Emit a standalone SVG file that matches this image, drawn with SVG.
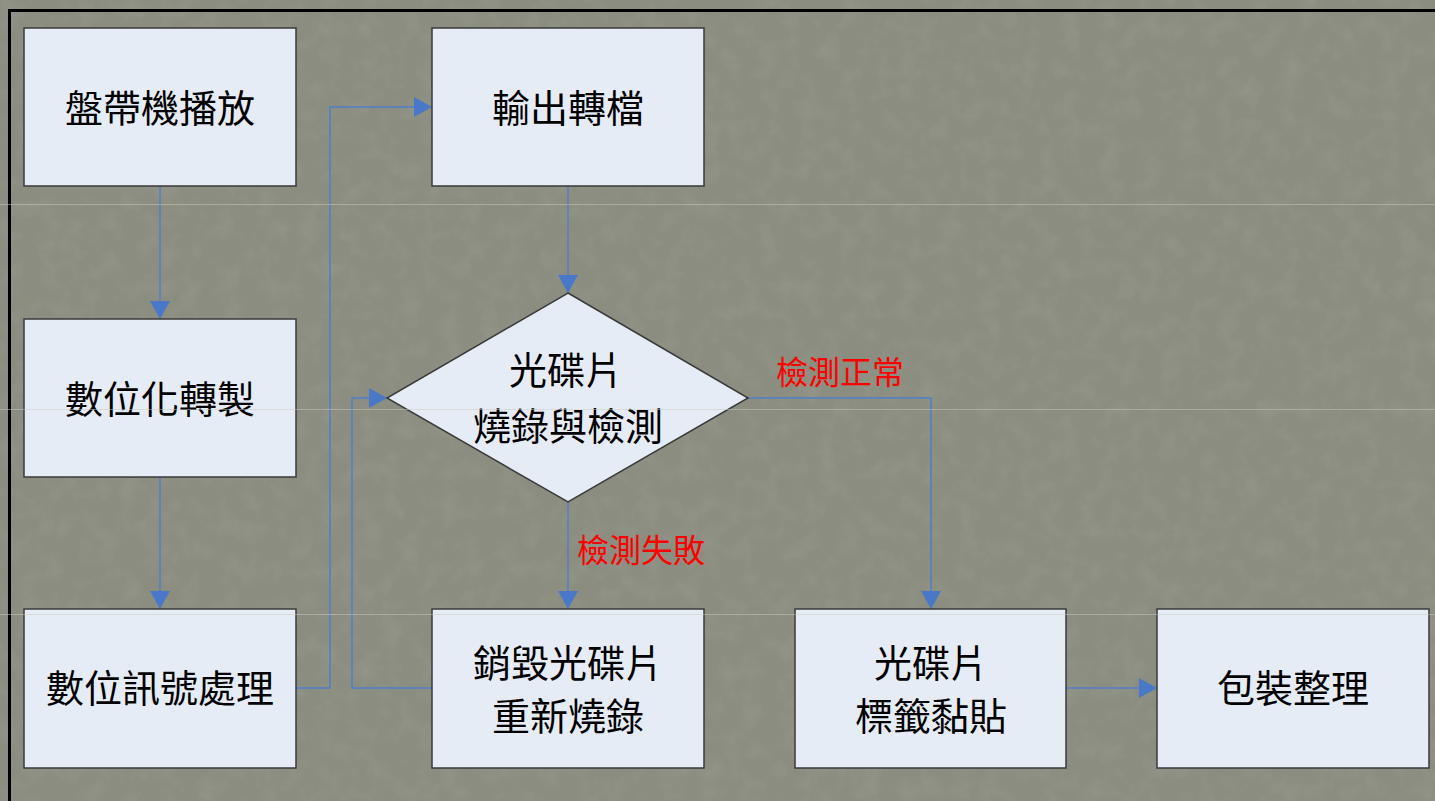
<svg xmlns="http://www.w3.org/2000/svg" width="1435" height="801" viewBox="0 0 1435 801">
<style>
.node{fill:#e6ecf6;stroke:#3a3a3a;stroke-width:1.5}
.lbl{font-family:"Noto Sans CJK TC","Noto Sans CJK SC",sans-serif;font-size:38px;fill:#000;text-anchor:middle}
.red{font-family:"Noto Sans CJK TC","Noto Sans CJK SC",sans-serif;font-size:32px;fill:#ff0000;text-anchor:start}
.conn{fill:none;stroke:#4f7fc6;stroke-width:1.5}
.seam{stroke:#c9cbc0;stroke-width:1;opacity:0.5}
</style>
<defs>
<marker id="arr" markerUnits="userSpaceOnUse" markerWidth="18" markerHeight="20" refX="18" refY="10" orient="auto">
<path d="M0,0 L18,10 L0,20 z" fill="#4a78c8"/>
</marker>
<filter id="tex" x="0" y="0" width="100%" height="100%">
<feTurbulence type="fractalNoise" baseFrequency="0.05" numOctaves="3" seed="4"/>
<feColorMatrix type="matrix" values="0 0 0 0 0.45  0 0 0 0 0.47  0 0 0 0 0.40  0 0 0 -1.2 0.7"/>
</filter>
</defs>
<rect x="0" y="0" width="1435" height="801" fill="#8a8d7f"/>
<rect x="0" y="0" width="1435" height="801" filter="url(#tex)" opacity="0.3"/>
<g id="frame">
<line x1="8" y1="10.5" x2="1435" y2="10.5" stroke="#000" stroke-width="3"/>
<line x1="9.5" y1="9" x2="9.5" y2="801" stroke="#000" stroke-width="3"/>
</g>
<g id="connectors">
<line class="conn" x1="160" y1="187" x2="160" y2="319" marker-end="url(#arr)"/>
<line class="conn" x1="160" y1="477" x2="160" y2="609" marker-end="url(#arr)"/>
<polyline class="conn" points="296,688 330,688 330,107 432,107" marker-end="url(#arr)"/>
<line class="conn" x1="568" y1="187" x2="568" y2="293" marker-end="url(#arr)"/>
<line class="conn" x1="568" y1="502" x2="568" y2="609" marker-end="url(#arr)"/>
<polyline class="conn" points="432,688 352,688 352,398 387,398" marker-end="url(#arr)"/>
<polyline class="conn" points="748,398 931,398 931,609" marker-end="url(#arr)"/>
<line class="conn" x1="1066" y1="688" x2="1157" y2="688" marker-end="url(#arr)"/>
<text class="red" x="776" y="384">檢測正常</text>
<text class="red" x="577" y="562">檢測失敗</text>
</g>
<g id="n1">
<rect class="node" x="24" y="28" width="272" height="158"/>
<text class="lbl" x="160" y="122">盤帶機播放</text>
</g>
<g id="n2">
<rect class="node" x="24" y="319" width="272" height="158"/>
<text class="lbl" x="160" y="413">數位化轉製</text>
</g>
<g id="n3">
<rect class="node" x="24" y="609" width="272" height="159"/>
<text class="lbl" x="160" y="702">數位訊號處理</text>
</g>
<g id="n4">
<rect class="node" x="432" y="28" width="272" height="158"/>
<text class="lbl" x="568" y="122">輸出轉檔</text>
</g>
<g id="n5">
<polygon class="node" points="568,293 748,398 568,502 387,398"/>
<text class="lbl" x="566" y="384">光碟片</text>
<text class="lbl" x="568" y="440">燒錄與檢測</text>
</g>
<g id="n6">
<rect class="node" x="432" y="609" width="272" height="159"/>
<text class="lbl" x="568" y="677">銷毀光碟片</text>
<text class="lbl" x="568" y="730">重新燒錄</text>
</g>
<g id="n7">
<rect class="node" x="795" y="609" width="271" height="159"/>
<text class="lbl" x="931" y="677">光碟片</text>
<text class="lbl" x="931" y="730">標籤黏貼</text>
</g>
<g id="n8">
<rect class="node" x="1157" y="609" width="272" height="159"/>
<text class="lbl" x="1293" y="702">包裝整理</text>
</g>
<g id="seams">
<line class="seam" x1="0" y1="204.5" x2="1435" y2="204.5"/>
<line class="seam" x1="0" y1="409.5" x2="1435" y2="409.5"/>
<line class="seam" x1="0" y1="614.5" x2="1435" y2="614.5"/>
</g>
</svg>
